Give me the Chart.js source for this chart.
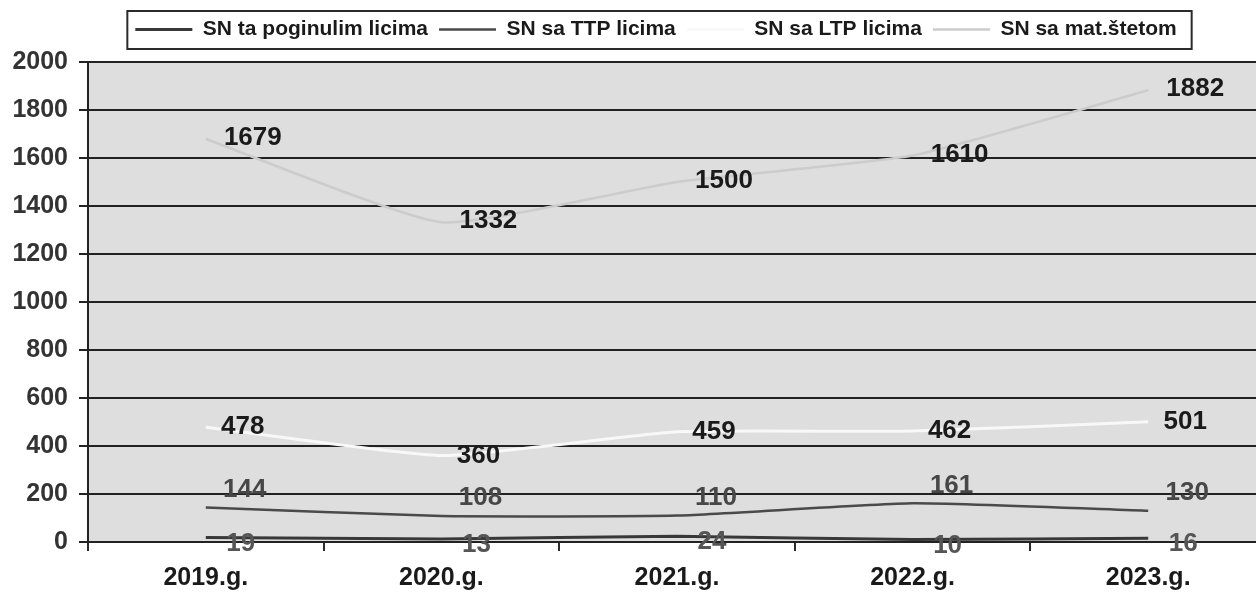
<!DOCTYPE html>
<html>
<head>
<meta charset="utf-8">
<script src="https://cdn.jsdelivr.net/npm/chart.js@4.4.1/dist/chart.umd.min.js"></script>
<style>
  html, body { margin: 0; padding: 0; background: #fff; overflow: hidden; }
  #wrap { width: 1266px; height: 593px; }
</style>
</head>
<body>
<div id="wrap"><canvas id="chart" width="1266" height="593"></canvas></div>
<script>
// data
const years = ['2019.g.', '2020.g.', '2021.g.', '2022.g.', '2023.g.'];
const poginuli = [19, 13, 24, 10, 16];
const ttpLica = [144, 108, 110, 161, 130];
const ltpLica = [478, 360, 459, 462, 501];
const matSteta = [1679, 1332, 1500, 1610, 1882];
const yMax = 2000;
const yStep = 200;

const FONT = '"Liberation Sans", Arial, sans-serif';

// gray plot area
const plotBg = {
    id: 'plotBg',
    beforeDraw(chart) {
        const { ctx, chartArea: a } = chart;
        ctx.save();
        ctx.fillStyle = '#dedede';
        ctx.fillRect(a.left, a.top, a.right - a.left, a.bottom - a.top);
        ctx.restore();
    }
};

// move the legend a bit and frame it
const legendFrame = {
    id: 'legendFrame',
    afterLayout(chart) {
        const lg = chart.legend;
        lg.left += 23; lg.right += 23;
        lg.top -= 12; lg.bottom -= 12;
    },
    afterDraw(chart) {
        const boxes = chart.legend.legendHitBoxes;
        if (!boxes || !boxes.length) return;
        const first = boxes[0], last = boxes[boxes.length - 1];
        const x0 = first.left - 8;
        const x1 = last.left + last.width + 15;
        const ctx = chart.ctx;
        ctx.save();
        ctx.strokeStyle = '#2a2a2a';
        ctx.lineWidth = 2;
        ctx.strokeRect(x0, first.top - 8, x1 - x0, first.height + 17);
        ctx.restore();
    }
};

// numbers next to each point
const valueLabels = {
    id: 'valueLabels',
    afterDatasetsDraw(chart) {
        const ctx = chart.ctx;
        ctx.save();
        ctx.font = 'bold 26px ' + FONT;
        ctx.textAlign = 'center';
        ctx.textBaseline = 'middle';
        chart.data.datasets.forEach((ds, i) => {
            const meta = chart.getDatasetMeta(i);
            ctx.fillStyle = ds.labelColor;
            meta.data.forEach((pt, j) => {
                ctx.fillText(ds.data[j], pt.x + ds.labelDx, pt.y + ds.labelDy);
            });
        });
        ctx.restore();
    }
};

const ctx = document.getElementById('chart').getContext('2d');
new Chart(ctx, {
    type: 'line',
    data: {
        labels: years,
        datasets: [
            {
                label: 'SN ta poginulim licima',
                data: poginuli,
                borderColor: '#383838',
                borderWidth: 3,
                labelColor: '#555',
                labelDx: 35,
                labelDy: 6
            },
            {
                label: 'SN sa TTP licima',
                data: ttpLica,
                borderColor: '#4a4a4a',
                borderWidth: 2.5,
                labelColor: '#474747',
                labelDx: 39,
                labelDy: -18
            },
            {
                label: 'SN sa LTP licima',
                data: ltpLica,
                borderColor: '#f8f8f8',
                borderWidth: 3,
                labelColor: '#1a1a1a',
                labelDx: 37,
                labelDy: 0
            },
            {
                label: 'SN sa mat.štetom',
                data: matSteta,
                borderColor: '#cccccc',
                borderWidth: 2.5,
                labelColor: '#1a1a1a',
                labelDx: 47,
                labelDy: -1
            }
        ]
    },
    options: {
        responsive: false,
        animation: false,
        layout: { padding: { top: 20, left: 0, right: 0, bottom: 0 } },
        elements: {
            point: { radius: 0 },
            line: { tension: 0.15 }
        },
        plugins: {
            tooltip: { enabled: false },
            legend: {
                position: 'top',
                labels: {
                    usePointStyle: true,
                    pointStyle: 'line',
                    pointStyleWidth: 57,
                    padding: 11,
                    color: '#1a1a1a',
                    font: { family: FONT, size: 21, weight: 'bold' }
                }
            }
        },
        scales: {
            x: {
                offset: true,
                grid: {
                    offset: true,
                    drawOnChartArea: false,
                    drawTicks: true,
                    tickLength: 9,
                    color: '#2a2a2a',
                    lineWidth: 2
                },
                border: { display: false },
                ticks: {
                    color: '#1a1a1a',
                    padding: 12,
                    maxRotation: 0,
                    font: { family: FONT, size: 25, weight: 'bold' }
                },
                afterFit(s) { s.height = 51; }
            },
            y: {
                min: 0,
                max: yMax,
                grid: { color: '#222', lineWidth: 2, tickLength: 9 },
                border: { color: '#222', width: 2 },
                ticks: {
                    stepSize: yStep,
                    color: '#333',
                    padding: 11,
                    callback: v => String(v),
                    font: { family: FONT, size: 25, weight: 'bold' }
                },
                afterFit(s) { s.width = 88; }
            }
        }
    },
    plugins: [plotBg, legendFrame, valueLabels]
});
</script>
</body>
</html>
